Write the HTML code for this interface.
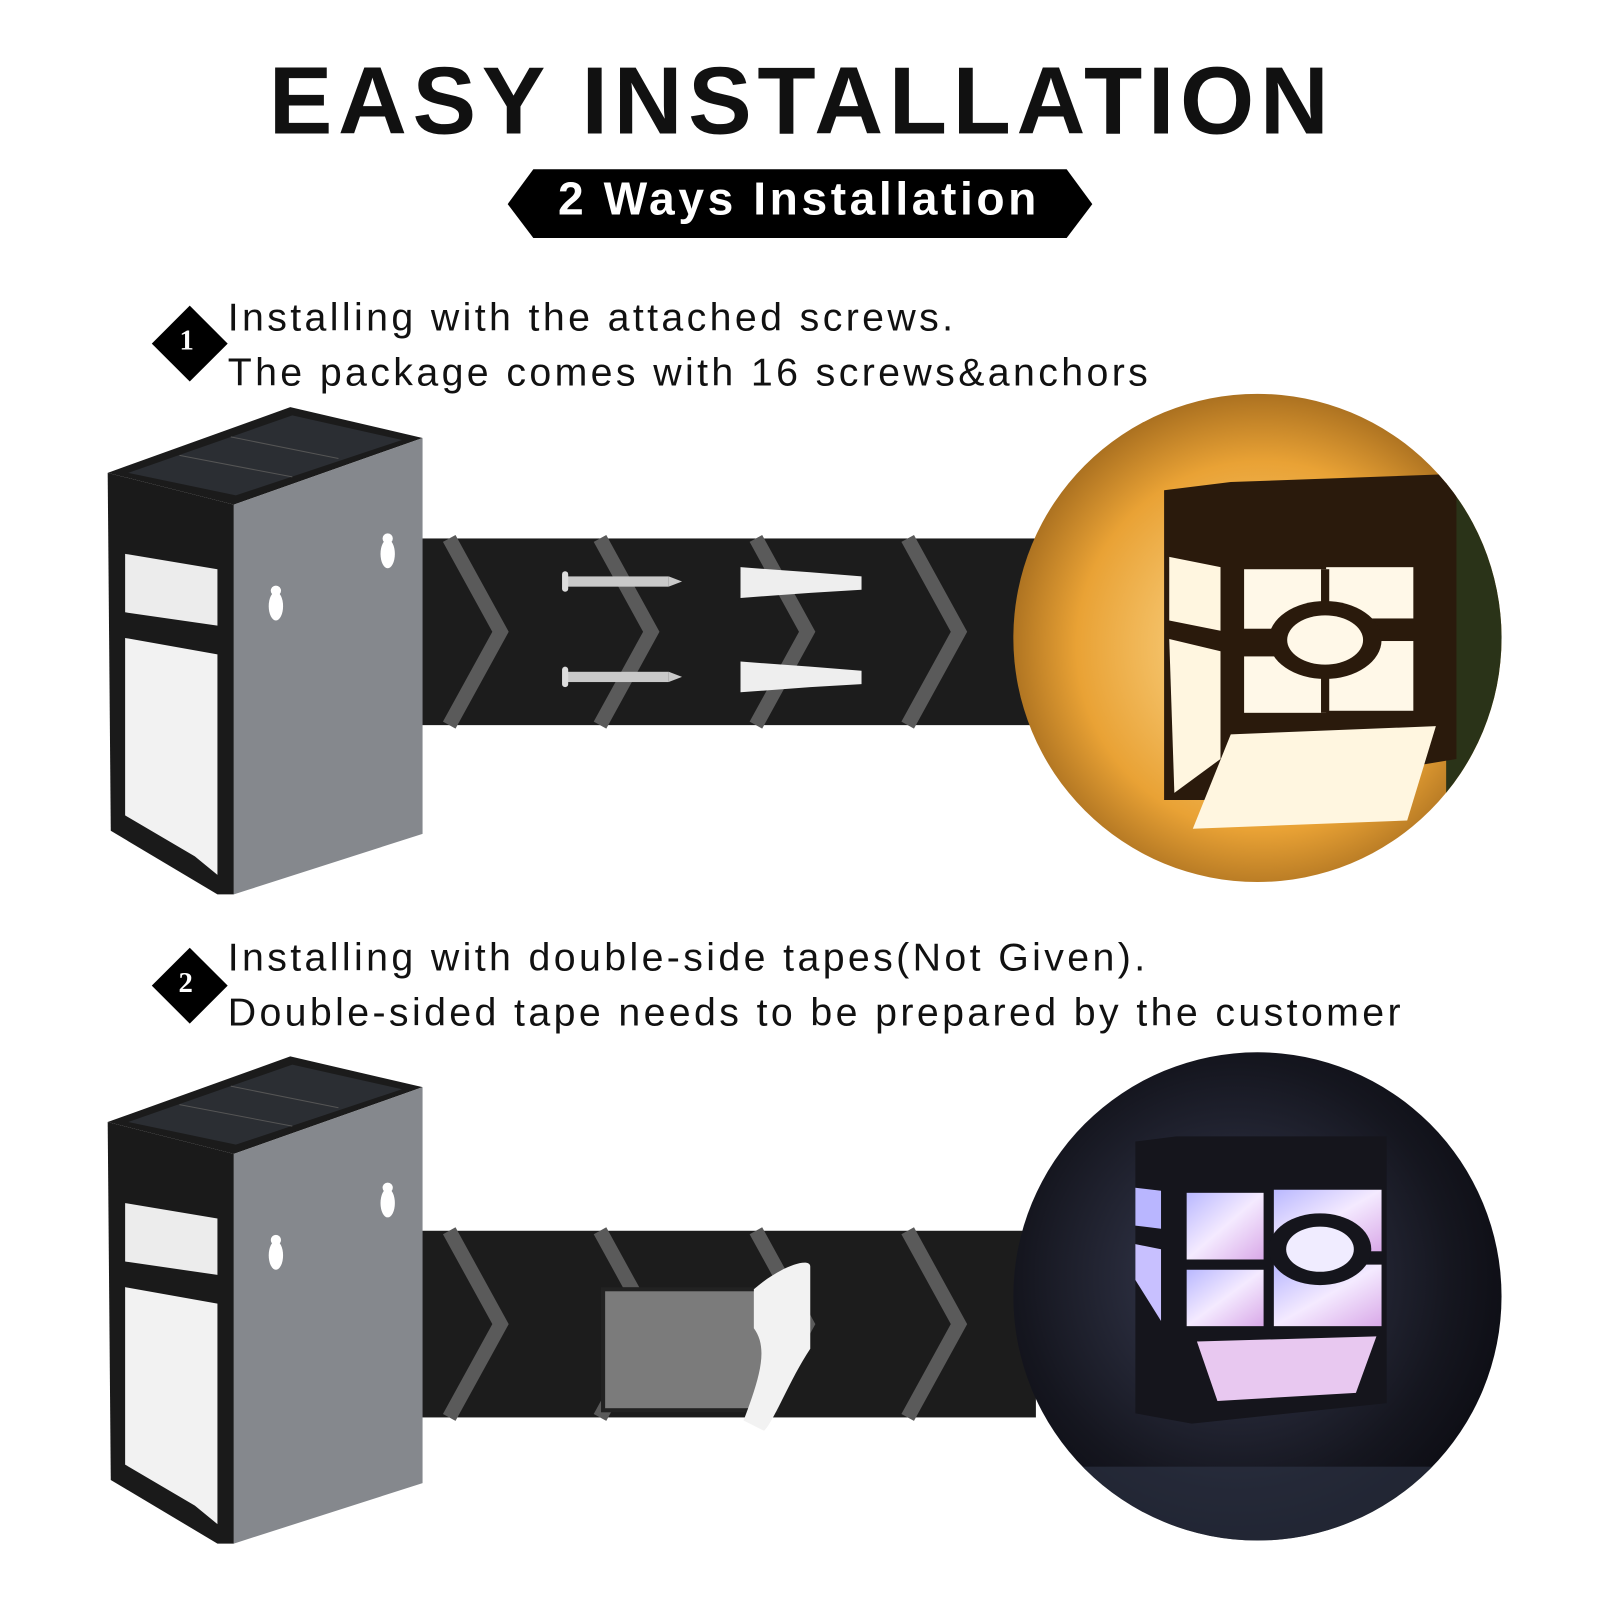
<!DOCTYPE html>
<html><head><meta charset="utf-8"><style>
html,body{margin:0;padding:0;background:#fff;}
body{width:1600px;height:1600px;position:relative;overflow:hidden;font-family:"Liberation Sans","DejaVu Sans",sans-serif;}
#w{position:absolute;left:0;top:0;width:1560px;height:1560px;transform:scale(1.02564);transform-origin:0 0;}
.t{position:absolute;white-space:nowrap;color:#111;}
</style></head><body><div id="w">
<svg width="1560" height="1560" viewBox="0 0 1560 1560" style="position:absolute;left:0;top:0">
<defs>
<radialGradient id="warm" cx="0.5" cy="0.5" r="0.6">
<stop offset="0" stop-color="#ffe09a"/><stop offset="0.6" stop-color="#e9a235"/><stop offset="1" stop-color="#7a4a10"/>
</radialGradient>
<radialGradient id="cool" cx="0.45" cy="0.45" r="0.6">
<stop offset="0" stop-color="#3a3e55"/><stop offset="0.7" stop-color="#15161f"/><stop offset="1" stop-color="#0a0a10"/>
</radialGradient>
<linearGradient id="pur" x1="0" y1="0" x2="1" y2="1">
<stop offset="0" stop-color="#b9b8ff"/><stop offset="0.5" stop-color="#f4eaff"/><stop offset="1" stop-color="#d9a9e8"/>
</linearGradient>
<clipPath id="c1"><circle cx="1226" cy="622" r="238"/></clipPath>
<clipPath id="c2"><circle cx="1226" cy="1264" r="238"/></clipPath>
<g id="dev">
<polygon points="105,466 283,402 412,432 228,497" fill="#1b1b1b"/>
<polygon points="125,466 285,410 392,434 230,488" fill="#2b2e33"/>
<line x1="175" y1="449" x2="285" y2="470" stroke="#555" stroke-width="1"/>
<line x1="225" y1="431" x2="330" y2="452" stroke="#555" stroke-width="1"/>
<polygon points="105,466 228,497 228,877 212,877 108,815" fill="#1a1a1a"/>
<polygon points="228,497 412,432 412,818 228,877" fill="#85888d"/>
<polygon points="122,545 212,560 212,615 122,602" fill="#ececec"/>
<polygon points="122,627 212,643 212,858 190,840 122,800" fill="#f2f2f2"/>
<ellipse cx="269" cy="596" rx="7" ry="14" fill="#fff"/><circle cx="269" cy="581" r="5" fill="#fff"/>
<ellipse cx="378" cy="545" rx="7" ry="14" fill="#fff"/><circle cx="378" cy="530" r="5" fill="#fff"/>
</g>
</defs>

<polygon points="520,165 1040,165 1065,199 1040,232 520,232 495,199" fill="#000"/>

<polygon points="185,298 222,335 185,372 148,335" fill="#000"/>
<polygon points="185,924 222,961 185,998 148,961" fill="#000"/>

<rect x="410" y="525" width="600" height="182" fill="#1c1c1c"/>
<g fill="none" stroke="#5a5a5a" stroke-width="14">
<polyline points="438,525 488,616 438,707"/>
<polyline points="585,525 635,616 585,707"/>
<polyline points="737,525 787,616 737,707"/>
<polyline points="885,525 935,616 885,707"/>
</g>
<g>
<rect x="552" y="562" width="100" height="10" fill="#c9c9c9"/><polygon points="652,562 665,567 652,572" fill="#c9c9c9"/><rect x="548" y="557" width="6" height="20" rx="3" fill="#ddd"/>
<rect x="552" y="655" width="100" height="10" fill="#c9c9c9"/><polygon points="652,655 665,660 652,665" fill="#c9c9c9"/><rect x="548" y="650" width="6" height="20" rx="3" fill="#ddd"/>
<polygon points="722,553 790,558 840,562 840,575 790,578 722,583" fill="#eee"/>
<polygon points="722,645 790,650 840,654 840,667 790,670 722,675" fill="#eee"/>
</g>

<use href="#dev" transform="translate(0,-5)"/>

<g clip-path="url(#c1)">
<rect x="980" y="380" width="500" height="500" fill="url(#warm)"/>
<rect x="1410" y="380" width="80" height="500" fill="#2a3318"/>
<polygon points="1135,478 1200,470 1420,462 1420,740 1180,780 1135,780" fill="#2a1a0c"/>
<polygon points="1140,543 1190,553 1190,615 1140,605" fill="#fff6e0"/>
<polygon points="1140,623 1190,635 1190,740 1145,773" fill="#fff6e0"/>
<rect x="1213" y="555" width="82" height="58" fill="#fff8e8"/>
<rect x="1293" y="553" width="85" height="50" fill="#fff8e8"/>
<rect x="1213" y="640" width="80" height="55" fill="#fff8e8"/>
<rect x="1293" y="625" width="85" height="68" fill="#fff8e8"/>
<ellipse cx="1292" cy="624" rx="55" ry="38" fill="#2a1a0c"/>
<ellipse cx="1292" cy="624" rx="37" ry="24" fill="#fff8e8"/>
<rect x="1288" y="555" width="8" height="35" fill="#2a1a0c"/>
<rect x="1288" y="655" width="8" height="40" fill="#2a1a0c"/>
<polygon points="1200,716 1400,708 1372,800 1163,808" fill="#fff6e0"/>
</g>

<rect x="410" y="1200" width="600" height="182" fill="#1c1c1c"/>
<g fill="none" stroke="#5a5a5a" stroke-width="14">
<polyline points="438,1200 488,1291 438,1382"/>
<polyline points="585,1200 635,1291 585,1382"/>
<polyline points="737,1200 787,1291 737,1382"/>
<polyline points="885,1200 935,1291 885,1382"/>
</g>
<g transform="translate(0,-5)">
<rect x="588" y="1262" width="170" height="118" fill="#7b7b7b" stroke="#222" stroke-width="4"/>
<path d="M735,1262 C760,1240 790,1230 790,1240 L790,1320 C770,1350 755,1390 745,1400 L725,1390 C740,1350 750,1320 735,1300 Z" fill="#f2f2f2"/>
</g>

<use href="#dev" transform="translate(0,628)"/>

<g clip-path="url(#c2)">
<rect x="980" y="1020" width="500" height="500" fill="url(#cool)"/>
<rect x="980" y="1430" width="500" height="90" fill="#2e3548" opacity="0.6"/>
<g transform="translate(22,-2)">
<polygon points="1085,1115 1125,1110 1330,1110 1330,1370 1140,1390 1085,1380" fill="#15151c"/>
<polygon points="1085,1160 1110,1163 1110,1200 1085,1197" fill="#b9b6ff"/>
<polygon points="1085,1215 1110,1220 1110,1290 1085,1250" fill="#c8c0ff"/>
<rect x="1135" y="1165" width="75" height="65" fill="url(#pur)"/>
<rect x="1220" y="1162" width="105" height="60" fill="url(#pur)"/>
<rect x="1135" y="1240" width="75" height="55" fill="url(#pur)"/>
<rect x="1220" y="1235" width="105" height="60" fill="url(#pur)"/>
<ellipse cx="1265" cy="1220" rx="50" ry="35" fill="#15151c"/>
<ellipse cx="1265" cy="1220" rx="33" ry="22" fill="#f0ecff"/>
<polygon points="1145,1310 1320,1305 1300,1360 1165,1368" fill="#e8c8f0"/>
</g>
</g>
</svg>

<div class="t" style="left:262px;top:45px;font-size:93px;font-weight:bold;letter-spacing:5.5px;">EASY INSTALLATION</div>
<div class="t" style="left:544px;top:168px;font-size:45px;font-weight:bold;color:#fff;letter-spacing:3.5px;">2 Ways Installation</div>
<div class="t" style="left:175px;top:317px;font-size:28px;font-weight:bold;color:#fff;font-family:'Liberation Serif',serif;">1</div>
<div class="t" style="left:174px;top:943px;font-size:28px;font-weight:bold;color:#fff;font-family:'Liberation Serif',serif;">2</div>
<div class="t" style="left:222px;top:283px;font-size:38.3px;letter-spacing:3.3px;line-height:54px;">Installing with the attached screws.<br>The package comes with 16 screws&amp;anchors</div>
<div class="t" style="left:222px;top:907px;font-size:38.3px;letter-spacing:3.3px;line-height:54px;">Installing with double-side tapes(Not Given).<br>Double-sided tape needs to be prepared by the customer</div>
</div></body></html>
